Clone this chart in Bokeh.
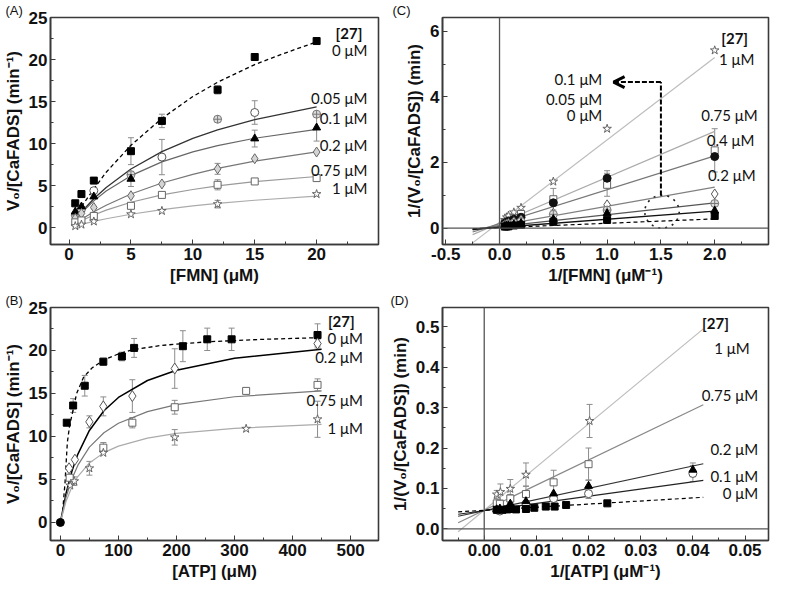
from bokeh.plotting import figure
from bokeh.layouts import gridplot
from bokeh.models import (Range1d, FixedTicker, NumeralTickFormatter, Whisker, TeeHead,
                          ColumnDataSource, Label, Span, Arrow, OpenHead)
from bokeh.embed import file_html
from bokeh.resources import INLINE

# ---------------- Panel A : V0 vs [FMN] ----------------
A_x = [0.5, 1, 2, 5, 7.5, 12, 15, 20]
A_0 = [2.9, 4.0, 5.6, 9.1, 12.7, 16.4, 20.3, 22.2]
A_0_err = [0, 0, 0, 1.6, 0.8, 0.5, 0, 0]
A_c_x = [1, 2, 7.5, 15]
A_c = [2.2, 4.4, 8.4, 13.7]
A_c_err = [0, 0, 2.1, 1.4]
A_o_x = [0.5, 5, 12, 20]
A_o = [1.5, 6.3, 12.9, 13.5]
A_t_x = [0.5, 1, 2, 5, 15, 20]
A_t = [1.9, 2.5, 3.7, 5.8, 10.6, 11.9]
A_t_err = [0, 0, 0, 0.9, 1.0, 1.6]
A_d = [1.1, 1.7, 2.4, 3.8, 5.2, 7.0, 8.2, 9.0]
A_d_err = [0, 0, 0, 0, 0, 0.65, 0, 0]
A_s = [0.63, 0.86, 1.4, 2.6, 3.9, 5.1, 5.5, 5.9]
A_s_err = [0, 0, 0, 0, 0, 0.6, 0.3, 0]
A_st_x = [0.5, 1, 2, 5, 7.5, 12, 20]
A_st = [0.19, 0.37, 0.74, 1.6, 2.0, 2.8, 4.0]
A_st_err = [0, 0, 0, 0, 0, 0.45, 0]
# fitted curves
fitA_x0 = [1, 2, 3, 5, 7.5, 10, 12, 15, 17.5, 20]
fitA_0 = [2.5, 4.6, 6.6, 9.8, 13.0, 15.6, 17.3, 19.4, 20.8, 22.1]
fitA_x = [0.5, 1, 2, 3, 5, 7.5, 10, 12, 15, 20]
fitA_c = [0.97, 1.87, 3.44, 4.79, 6.98, 9.05, 10.62, 11.63, 12.86, 14.37]
fitA_t = [0.93, 1.77, 3.19, 4.37, 6.19, 7.83, 9.02, 9.76, 10.64, 11.69]
fitA_d = [0.52, 1.0, 1.89, 2.67, 4.0, 5.31, 6.35, 7.05, 7.91, 9.01]
fitA_s = [0.43, 0.82, 1.51, 2.09, 3.03, 3.9, 4.55, 4.97, 5.48, 6.09]
fitA_st = [0.2, 0.39, 0.75, 1.06, 1.6, 2.15, 2.59, 2.89, 3.26, 3.75]

# ---------------- Panel B : V0 vs [ATP] ----------------
B_0_x = [11, 22, 42, 74, 106, 127, 211, 253, 295, 443]
B_0 = [11.6, 13.6, 15.9, 18.7, 19.3, 20.3, 20.5, 21.3, 21.3, 21.8]
B_0_err = [0, 0.8, 1.2, 0.4, 0.5, 1.1, 1.8, 1.3, 1.3, 1.3]
B_d_x = [15, 25, 50, 74, 124, 197, 443]
B_d = [6.3, 7.3, 11.7, 13.5, 14.7, 17.9, 20.8]
B_d_err = [0, 0, 0.7, 1.1, 1.9, 2.3, 0.5]
B_s_x = [16, 74, 124, 197, 320, 443]
B_s = [5.2, 8.7, 11.6, 13.4, 15.3, 16.0]
B_s_err = [0, 0.6, 0.6, 0.8, 0, 0.7]
B_st_x = [17, 24, 50, 74, 197, 320, 443]
B_st = [4.3, 4.8, 6.3, 8.1, 9.9, 10.9, 12.0]
B_st_err = [0, 0.5, 0.8, 0, 0.9, 0, 2.1]
fitB_x0 = [4, 6, 8, 10, 12, 16, 21, 28, 40, 55, 75, 100, 125, 175, 250, 350, 450]
fitB_0 = [1.3, 3.0, 4.6, 7.0, 9.3, 11.3, 12.8, 15.0, 16.9, 18.0, 18.9, 19.6, 20.1, 20.6, 21.0, 21.3, 21.5]
fitB_x = [0, 10, 20, 30, 50, 75, 100, 150, 200, 300, 450]
fitB_d = [0, 3.44, 5.98, 7.92, 10.7, 12.99, 14.54, 16.51, 17.7, 19.1, 20.15]
fitB_s = [0, 2.99, 5.08, 6.63, 8.76, 10.43, 11.53, 12.89, 13.7, 14.62, 15.3]
fitB_st = [0, 2.5, 4.16, 5.34, 6.92, 8.12, 8.88, 9.81, 10.35, 10.95, 11.4]

# ---------------- Panel C : double reciprocal, FMN ----------------
C_x = [0.05, 0.067, 0.083, 0.133, 0.2, 0.5, 1.0, 2.0]
C_st = [0.25, 0.33, 0.38, 0.48, 0.62, 1.42, 3.03, 5.42]
C_s = [0.17, 0.19, 0.23, 0.31, 0.43, 0.88, 1.32, 2.37]
C_s_err = [0, 0, 0, 0, 0, 0.33, 0.35, 0.66]
C_c = [0.15, 0.18, 0.21, 0.27, 0.33, 0.77, 1.52, 2.18]
C_c_err = [0, 0, 0, 0, 0, 0, 0.23, 0]
C_d = [0.1, 0.12, 0.14, 0.19, 0.25, 0.45, 0.71, 1.04]
C_o = [0.08, 0.09, 0.11, 0.15, 0.2, 0.42, 0.55, 0.75]
C_t = [0.06, 0.07, 0.08, 0.11, 0.15, 0.27, 0.45, 0.53]
C_q = [0.045, 0.05, 0.055, 0.08, 0.1, 0.19, 0.25, 0.37]
lineC_x = [-0.25, 2.0]
lineC_st = [-0.45, 5.2]
lineC_s = [-0.2, 2.95]
lineC_c = [-0.12, 2.2]
lineC_d = [-0.06, 1.25]
lineC_o = [-0.04, 0.77]
lineC_t = [-0.04, 0.52]
lineC_q = [-0.02, 0.28]

# ---------------- Panel D : double reciprocal, ATP ----------------
D_x = [0.0024, 0.003, 0.005, 0.008, 0.0133, 0.02, 0.04]
D_st_x = [0.0024, 0.0031, 0.005, 0.008, 0.0202]
D_st = [0.085, 0.091, 0.099, 0.134, 0.267]
D_st_err = [0.01, 0.02, 0.023, 0.029, 0.041]
D_s_x = [0.0024, 0.003, 0.005, 0.008, 0.0133, 0.02]
D_s = [0.063, 0.062, 0.075, 0.086, 0.115, 0.16]
D_s_err = [0, 0, 0.01, 0.02, 0.03, 0.04]
D_t = [0.048, 0.05, 0.062, 0.068, 0.087, 0.106, 0.146]
D_t_err = [0, 0, 0, 0, 0, 0.015, 0.017]
D_c = [0.047, 0.044, 0.052, 0.062, 0.075, 0.087, 0.137]
D_c_err = [0, 0, 0, 0, 0, 0.012, 0.02]
D_q_x = [0.0024, 0.0035, 0.0044, 0.005, 0.0061, 0.008, 0.0096, 0.0118, 0.0135, 0.0157, 0.0236]
D_q = [0.047, 0.047, 0.048, 0.049, 0.048, 0.049, 0.052, 0.055, 0.055, 0.059, 0.063]
lineD_x = [-0.005, 0.042]
lineD_st = [-0.0075, 0.495]
lineD_s = [0.015, 0.307]
lineD_t = [0.031, 0.161]
lineD_c = [0.036, 0.12]
lineD_q = [0.042, 0.078]

FRAME = "#3a3a3a"
TICK_FONT = "Liberation Sans"
TEXT_FONT = "Lato"


def make_fig(w, h, xr, yr, xlab, ylab, borders, xt, xm, yt, ym, letter, letter_offset,
             xfmt=None, yfmt=None):
    l, r, t, b = borders
    p = figure(width=w, height=h, x_range=Range1d(*xr), y_range=Range1d(*yr),
               output_backend="svg", toolbar_location=None, title=letter,
               min_border_left=l, min_border_right=r, min_border_top=t, min_border_bottom=b)
    p.title.align = "left"
    p.title.offset = letter_offset
    p.title.standoff = 0
    p.title.text_font = TICK_FONT
    p.title.text_font_size = "13px"
    p.title.text_font_style = "normal"
    p.title.text_color = "#111111"
    p.xgrid.visible = False
    p.ygrid.visible = False
    p.outline_line_color = FRAME
    p.outline_line_width = 1.6
    p.outline_line_alpha = 1
    p.xaxis.ticker = FixedTicker(ticks=xt, minor_ticks=xm)
    p.yaxis.ticker = FixedTicker(ticks=yt, minor_ticks=ym)
    if xfmt:
        p.xaxis.formatter = NumeralTickFormatter(format=xfmt)
    if yfmt:
        p.yaxis.formatter = NumeralTickFormatter(format=yfmt)
    p.xaxis.axis_label = xlab
    p.yaxis.axis_label = ylab
    for ax in (p.xaxis[0], p.yaxis[0]):
        ax.axis_line_color = FRAME
        ax.axis_line_width = 1.6
        ax.major_tick_in = 5
        ax.major_tick_out = 0
        ax.minor_tick_in = 3
        ax.minor_tick_out = 0
        ax.major_tick_line_color = FRAME
        ax.minor_tick_line_color = FRAME
        ax.major_label_text_font = TICK_FONT
        ax.major_label_text_font_style = "bold"
        ax.major_label_text_font_size = "17px"
        ax.major_label_text_color = "#111111"
        ax.major_label_standoff = 3
        ax.axis_label_text_font = TICK_FONT
        ax.axis_label_text_font_style = "bold"
        ax.axis_label_text_font_size = "17px"
        ax.axis_label_text_color = "#111111"
        ax.axis_label_standoff = 3
    return p


def errbars(p, xs, ys, es, color="#8c8c8c"):
    pts = [(x, y, e) for x, y, e in zip(xs, ys, es) if e > 0]
    src = ColumnDataSource(dict(x=[q[0] for q in pts],
                                lo=[q[1] - q[2] for q in pts],
                                hi=[q[1] + q[2] for q in pts]))
    w = Whisker(source=src, base="x", upper="hi", lower="lo", line_color=color, line_width=1,
                upper_head=TeeHead(size=6, line_color=color, line_width=1),
                lower_head=TeeHead(size=6, line_color=color, line_width=1))
    p.add_layout(w)


def label(p, x, y, text, bold=False, align="right", size="15px"):
    p.add_layout(Label(x=x, y=y, text=text, text_align=align, text_baseline="middle",
                       text_font=TEXT_FONT, text_font_size=size,
                       text_font_style="bold" if bold else "normal", text_color="#111111"))


W = 385
# ---------------- A ----------------
pA = make_fig(W, 290, (-1.5, 25), (-2, 25), "[FMN] (μM)", "V₀/[CaFADS] (min⁻¹)",
              (45, 7, 0, 46), [0, 5, 10, 15, 20], [2.5, 7.5, 12.5, 17.5, 22.5],
              [0, 5, 10, 15, 20, 25], [2.5, 7.5, 12.5, 17.5, 22.5], "(A)", -45)
pA.line(fitA_x0, fitA_0, line_color="black", line_width=1.3, line_dash="4 3")
pA.line(fitA_x, fitA_c, line_color="#333333", line_width=1.3)
pA.line(fitA_x, fitA_t, line_color="#666666", line_width=1.2)
pA.line(fitA_x, fitA_d, line_color="#777777", line_width=1.2)
pA.line(fitA_x, fitA_s, line_color="#9a9a9a", line_width=1.1)
pA.line(fitA_x, fitA_st, line_color="#ababab", line_width=1.1)
errbars(pA, A_x, A_0, A_0_err)
errbars(pA, A_c_x, A_c, A_c_err)
errbars(pA, A_t_x, A_t, A_t_err)
errbars(pA, A_x, A_d, A_d_err)
errbars(pA, A_x, A_s, A_s_err)
errbars(pA, A_st_x, A_st, A_st_err)
pA.scatter(A_x, A_0, marker="square", size=7, fill_color="black", line_color="black")
pA.scatter(A_c_x, A_c, marker="circle", size=8, fill_color="white", line_color="#555555")
pA.scatter(A_o_x, A_o, marker="circle_cross", size=8, fill_color="#dddddd", line_color="#777777")
pA.scatter(A_t_x, A_t, marker="triangle", size=8, fill_color="black", line_color="black")
pA.scatter(A_x, A_d, marker="diamond", size=10, fill_color="#d4d4d4", line_color="#666666")
pA.scatter(A_x, A_s, marker="square", size=7, fill_color="white", line_color="#666666")
pA.scatter(A_st_x, A_st, marker="star", size=9, fill_color="white", line_color="#666666")
label(pA, 23.7, 23.1, "[27]", bold=True)
label(pA, 24.1, 21.1, "0 μM")
label(pA, 24.1, 15.4, "0.05 μM")
label(pA, 24.1, 13.1, "0.1 μM")
label(pA, 24.1, 9.8, "0.2 μM")
label(pA, 24.1, 6.9, "0.75 μM")
label(pA, 24.1, 4.7, "1 μM")

# ---------------- C ----------------
pC = make_fig(W, 290, (-0.53, 2.5), (-0.5, 6.42), "1/[FMN] (μM⁻¹)", "1/(V₀/[CaFADS]) (min)",
              (57, 2, 0, 46), [-0.5, 0, 0.5, 1.0, 1.5, 2.0], [-0.25, 0.25, 0.75, 1.25, 1.75, 2.25],
              [0, 2, 4, 6], [1, 3, 5], "(C)", -50, xfmt="0.0")
pC.add_layout(Span(location=0, dimension="width", line_color="#555555", line_width=1.3))
pC.add_layout(Span(location=0, dimension="height", line_color="#555555", line_width=1.3))
pC.line(lineC_x, lineC_st, line_color="#bdbdbd", line_width=1.2)
pC.line(lineC_x, lineC_s, line_color="#ababab", line_width=1.2)
pC.line(lineC_x, lineC_c, line_color="#777777", line_width=1.2)
pC.line(lineC_x, lineC_d, line_color="#808080", line_width=1.2)
pC.line(lineC_x, lineC_o, line_color="#555555", line_width=1.2)
pC.line(lineC_x, lineC_t, line_color="#111111", line_width=1.3)
pC.line(lineC_x, lineC_q, line_color="black", line_width=1.2, line_dash="4 3")
errbars(pC, C_x, C_s, C_s_err)
errbars(pC, C_x, C_c, C_c_err)
pC.scatter(C_x, C_st, marker="star", size=9, fill_color="white", line_color="#666666")
pC.scatter(C_x, C_s, marker="square", size=7, fill_color="white", line_color="#666666")
pC.scatter(C_x, C_c, marker="circle", size=8, fill_color="#111111", line_color="#111111")
pC.scatter(C_x, C_d, marker="diamond", size=10, fill_color="white", line_color="#555555")
pC.scatter(C_x, C_o, marker="circle_cross", size=8, fill_color="#dddddd", line_color="#777777")
pC.scatter(C_x, C_t, marker="triangle", size=8, fill_color="black", line_color="black")
pC.scatter(C_x, C_q, marker="square", size=7, fill_color="black", line_color="black")
pC.ellipse(x=[1.51], y=[0.5], width=[0.32], height=[1.0], fill_color=None,
           line_color="#222222", line_dash="2 5", line_width=1.6)
pC.line([1.5, 1.5], [0.99, 4.45], line_color="black", line_width=2, line_dash="5 2")
pC.add_layout(Arrow(end=OpenHead(size=11, line_width=3, line_color="black"),
                    x_start=1.5, y_start=4.45, x_end=1.06, y_end=4.45,
                    line_color="black", line_width=2, line_dash="5 2"))
label(pC, 2.31, 5.78, "[27]", bold=True)
label(pC, 2.37, 5.17, "1 μM")
label(pC, 2.4, 3.46, "0.75 μM")
label(pC, 2.37, 2.7, "0.4 μM")
label(pC, 2.38, 1.61, "0.2 μM")
label(pC, 0.955, 4.55, "0.1 μM")
label(pC, 0.955, 3.93, "0.05 μM")
label(pC, 0.955, 3.46, "0 μM")

# ---------------- B ----------------
pB = make_fig(W, 293, (-17, 548), (-2.1, 25), "[ATP] (μM)", "V₀/[CaFADS] (min⁻¹)",
              (45, 7, 0, 43), [0, 100, 200, 300, 400, 500], [50, 150, 250, 350, 450],
              [0, 5, 10, 15, 20, 25], [2.5, 7.5, 12.5, 17.5, 22.5], "(B)", -45)
pB.line(fitB_x0, fitB_0, line_color="black", line_width=1.3, line_dash="4 3")
pB.line(fitB_x, fitB_d, line_color="black", line_width=1.5)
pB.line(fitB_x, fitB_s, line_color="#777777", line_width=1.2)
pB.line(fitB_x, fitB_st, line_color="#ababab", line_width=1.2)
errbars(pB, B_0_x, B_0, B_0_err)
errbars(pB, B_d_x, B_d, B_d_err)
errbars(pB, B_s_x, B_s, B_s_err)
errbars(pB, B_st_x, B_st, B_st_err)
pB.scatter([0], [0], marker="circle", size=8, fill_color="black", line_color="black")
pB.scatter(B_0_x, B_0, marker="square", size=7, fill_color="black", line_color="black")
pB.scatter(B_d_x, B_d, marker="diamond", size=11, fill_color="white", line_color="#555555")
pB.scatter(B_s_x, B_s, marker="square", size=7, fill_color="white", line_color="#666666")
pB.scatter(B_st_x, B_st, marker="star", size=9, fill_color="white", line_color="#666666")
label(pB, 507, 23.4, "[27]", bold=True)
label(pB, 521, 21.4, "0 μM")
label(pB, 521, 19.3, "0.2 μM")
label(pB, 521, 14.2, "0.75 μM")
label(pB, 521, 11.0, "1 μM")

# ---------------- D ----------------
pD = make_fig(W, 293, (-0.008, 0.0545), (-0.029, 0.548), "1/[ATP] (μM⁻¹)", "1/(V₀/[CaFADS]) (min)",
              (57, 2, 0, 43), [0, 0.01, 0.02, 0.03, 0.04, 0.05],
              [-0.005, 0.005, 0.015, 0.025, 0.035, 0.045],
              [0, 0.1, 0.2, 0.3, 0.4, 0.5], [0.05, 0.15, 0.25, 0.35, 0.45],
              "(D)", -52, xfmt="0.00", yfmt="0.0")
pD.add_layout(Span(location=0, dimension="width", line_color="#555555", line_width=1.3))
pD.add_layout(Span(location=0, dimension="height", line_color="#555555", line_width=1.3))
pD.line(lineD_x, lineD_st, line_color="#bdbdbd", line_width=1.2)
pD.line(lineD_x, lineD_s, line_color="#888888", line_width=1.2)
pD.line(lineD_x, lineD_t, line_color="#333333", line_width=1.2)
pD.line(lineD_x, lineD_c, line_color="#222222", line_width=1.2)
pD.line(lineD_x, lineD_q, line_color="black", line_width=1.2, line_dash="4 3")
errbars(pD, D_st_x, D_st, D_st_err)
errbars(pD, D_s_x, D_s, D_s_err)
errbars(pD, D_x, D_t, D_t_err)
errbars(pD, D_x, D_c, D_c_err)
pD.scatter(D_st_x, D_st, marker="star", size=9, fill_color="white", line_color="#666666")
pD.scatter(D_s_x, D_s, marker="square", size=7, fill_color="white", line_color="#666666")
pD.scatter(D_x, D_c, marker="circle", size=8, fill_color="white", line_color="#555555")
pD.scatter(D_x, D_t, marker="triangle", size=8, fill_color="black", line_color="black")
pD.scatter(D_q_x, D_q, marker="square", size=7, fill_color="black", line_color="black")
label(pD, 0.0469, 0.51, "[27]", bold=True)
label(pD, 0.0509, 0.447, "1 μM")
label(pD, 0.0525, 0.332, "0.75 μM")
label(pD, 0.0525, 0.198, "0.2 μM")
label(pD, 0.0525, 0.131, "0.1 μM")
label(pD, 0.0525, 0.089, "0 μM")

grid = gridplot([[pA, pC], [pB, pD]], toolbar_location=None)
open("out.html", "w").write(file_html(grid, INLINE))
